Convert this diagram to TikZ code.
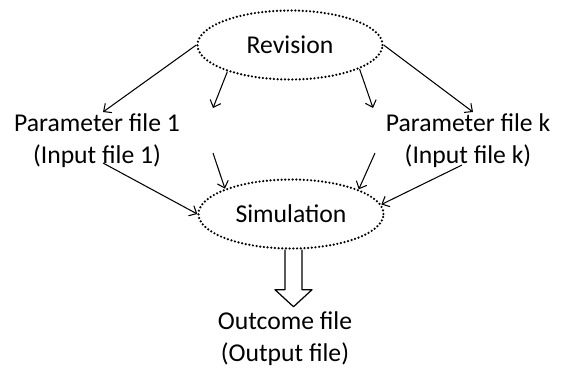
\documentclass[tikz,border=0pt]{standalone}
\usepackage{fontspec}
\setmainfont{Carlito}
\usetikzlibrary{shapes.geometric,arrows.meta}
\begin{document}
\begin{tikzpicture}[x=0.02cm, y=-0.02cm, font=\fontsize{14.6}{18.2}\selectfont, line join=round, >={Straight Barb[length=3.5pt,width=6.5pt]},
oval/.style={ellipse, draw, line width=1.4pt, dash pattern=on 0pt off 2.1pt, line cap=round, minimum width=3.7cm, minimum height=1.38cm, inner sep=0pt},
txt/.style={align=center}]
\useasboundingbox (0,0) rectangle (562,370);
\node[oval] (rev) at (290,45) {Revision};
\node[oval] (sim) at (291,214) {Simulation};
\node[txt] (p1) at (97,141) {Parameter file 1\\(Input file 1)};
\node[txt] (pk) at (468,141) {Parameter file k\\(Input file k)};
\node[txt] (out) at (285,339) {Outcome file\\(Output file)};
\path (103,112) coordinate (a1) (213,108) coordinate (a2) (373,108) coordinate (a3) (473,112) coordinate (a4)
(103,163) coordinate (b1) (213,153) coordinate (b2) (375,153) coordinate (b3) (462,165) coordinate (b4);
\foreach \s/\e in {rev.west/a1, rev.203/a2, rev.-19/a3, rev.east/a4, b1/sim.west, b2/sim.159, b3/sim.20, b4/sim.6}
{\draw[->, line width=0.6pt] (\s)--(\e);}
\draw[line width=0.7pt] (sim.south) ++(-6,0) -- ++(0,40) -- ++(-10,0) -- ++(18.5,17) -- ++(18.5,-17) -- ++(-10,0) -- ++(0,-40);
\end{tikzpicture}
\end{document}
